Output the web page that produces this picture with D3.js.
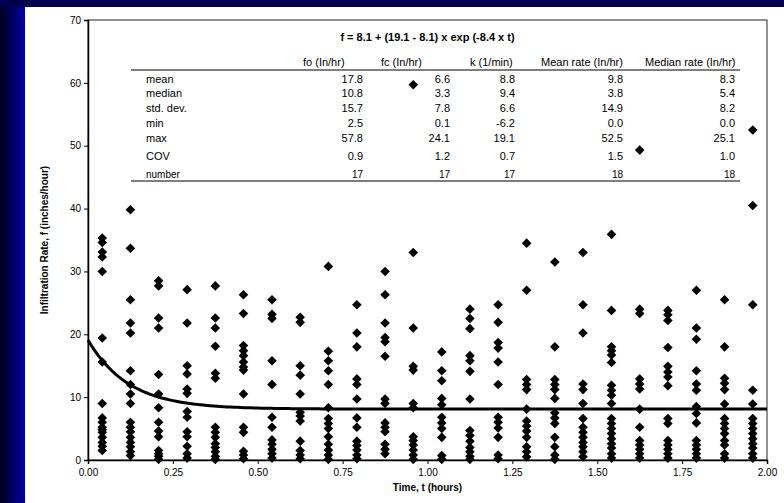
<!DOCTYPE html>
<html lang="en">
<head>
<meta charset="UTF-8" />
<title>Infiltration rate</title>
<style>
  body { margin: 0; background: #fff; }
  svg { display: block; font-family: "Liberation Sans", Arial, sans-serif; }
</style>
</head>
<body>
<div id="chart"></div>
<script src="https://cdnjs.cloudflare.com/ajax/libs/d3/7.8.5/d3.min.js"></script>
<script>
// sample times (hours), one column of observations each
var times = [0.042, 0.125, 0.208, 0.292, 0.375, 0.458, 0.542, 0.625, 0.708, 0.792, 0.875, 0.958,
             1.042, 1.125, 1.208, 1.292, 1.375, 1.458, 1.542, 1.625, 1.708, 1.792, 1.875, 1.958];

// observed infiltration rates (in/hr) for each time column
var rates = [
  [35.3, 34.6, 33.1, 32.3, 30.0, 19.4, 15.6, 9.0, 6.7, 6.0, 5.2, 4.8, 4.4, 3.6, 2.8, 2.2, 1.5],
  [39.8, 33.7, 25.5, 21.8, 20.2, 14.2, 12.0, 10.5, 9.0, 6.0, 5.2, 4.5, 3.6, 2.8, 2.1, 1.3, 0.7],
  [28.5, 27.7, 22.6, 21.0, 13.6, 10.5, 8.3, 6.0, 4.6, 3.7, 1.5, 1.0, 0.6, 0.1],
  [27.1, 21.8, 15.0, 13.7, 11.3, 10.6, 7.7, 6.8, 4.5, 3.7, 2.2, 1.0, 0.3],
  [27.7, 22.6, 21.0, 18.1, 13.8, 13.0, 5.2, 4.4, 3.6, 2.6, 2.0, 1.3, 0.6, 0.1],
  [26.3, 23.3, 18.2, 17.4, 16.6, 15.6, 14.8, 14.3, 10.5, 5.2, 4.4, 1.4, 0.8, 0.2],
  [25.5, 23.2, 22.5, 15.8, 12.0, 6.8, 5.2, 3.2, 2.5, 1.7, 1.0, 0.3],
  [22.7, 21.9, 15.0, 13.5, 10.5, 7.6, 7.0, 6.2, 3.0, 1.5, 0.8, 0.2],
  [30.8, 17.3, 15.8, 14.2, 12.0, 8.3, 6.6, 5.8, 5.0, 3.7, 2.5, 1.6, 0.8, 0.1],
  [24.7, 20.2, 18.0, 12.9, 12.0, 9.7, 6.7, 5.2, 3.0, 2.3, 1.6, 0.8, 0.2],
  [30.0, 26.3, 21.8, 19.5, 18.8, 16.5, 9.7, 9.0, 5.9, 5.2, 4.5, 2.5, 1.7, 1.0],
  [59.7, 33.0, 21.0, 14.9, 14.3, 9.0, 8.3, 3.7, 3.1, 2.4, 1.6, 0.8, 0.1],
  [17.2, 14.2, 12.6, 9.8, 8.8, 6.8, 5.9, 5.0, 3.6, 0.7, 0.1],
  [24.0, 22.5, 20.9, 16.6, 15.8, 14.1, 9.7, 4.7, 3.9, 3.0, 2.0, 1.3, 0.6, 0.1],
  [24.7, 21.9, 18.7, 17.8, 15.6, 12.0, 6.8, 6.0, 5.1, 3.6, 0.8, 0.2],
  [34.5, 27.0, 12.8, 12.0, 11.2, 8.1, 6.2, 5.4, 4.6, 3.6, 2.1, 1.3, 0.5],
  [31.5, 18.0, 12.8, 12.0, 11.2, 9.8, 7.5, 6.7, 5.8, 3.6, 2.1, 0.8, 0.1],
  [33.0, 24.7, 20.2, 12.1, 11.2, 9.0, 6.6, 5.2, 4.4, 3.6, 2.8, 2.1, 1.3, 0.5],
  [35.9, 23.8, 18.0, 17.4, 16.7, 15.5, 11.9, 11.1, 10.3, 9.0, 6.6, 5.8, 5.0, 4.2, 3.4, 2.6, 1.9, 1.0, 0.3],
  [49.3, 24.0, 23.3, 12.9, 12.1, 11.3, 8.1, 5.2, 3.1, 2.4, 1.7, 1.0, 0.3],
  [23.8, 23.1, 22.2, 17.9, 14.9, 14.0, 13.2, 11.8, 6.6, 5.8, 3.1, 2.4, 1.7, 1.0, 0.3],
  [27.0, 21.0, 19.2, 14.2, 12.1, 11.1, 8.5, 7.4, 5.9, 3.1, 2.4, 1.7, 1.0, 0.3],
  [25.5, 18.0, 13.0, 12.2, 11.2, 8.9, 6.6, 5.8, 5.0, 4.2, 3.1, 2.4, 1.0, 0.3],
  [52.5, 40.5, 24.7, 11.1, 8.9, 6.6, 5.8, 5.0, 4.2, 3.4, 2.6, 1.9, 1.0, 0.3]
];

// fitted Horton curve parameters
var fc = 8.1, fo = 19.1, k = 8.4;

var xTicks = [0, 0.25, 0.5, 0.75, 1, 1.25, 1.5, 1.75, 2];
var yTicks = [0, 10, 20, 30, 40, 50, 60, 70];

// summary table
var statLabels = ['mean', 'median', 'std. dev.', 'min', 'max', 'COV', 'number'];
var statHeaders = ['fo (In/hr)', 'fc (In/hr)', 'k (1/min)', 'Mean rate (In/hr)', 'Median rate (In/hr)'];
var foStats = ['17.8', '10.8', '15.7', '2.5', '57.8', '0.9', '17'];
var fcStats = ['6.6', '3.3', '7.8', '0.1', '24.1', '1.2', '17'];
var kStats = ['8.8', '9.4', '6.6', '-6.2', '19.1', '0.7', '17'];
var meanStats = ['9.8', '3.8', '14.9', '0.0', '52.5', '1.5', '18'];
var medianStats = ['8.3', '5.4', '8.2', '0.0', '25.1', '1.0', '18'];

var width = 784, height = 503;
var margin = { left: 88, right: 17, top: 20, bottom: 43 };

var svg = d3.select('#chart').append('svg')
  .attr('width', width)
  .attr('height', height);

// slide background: dark top band and blue left strip
var defs = svg.append('defs');
var grad = defs.append('linearGradient').attr('id', 'side')
  .attr('x1', 0).attr('x2', 1).attr('y1', 0).attr('y2', 0);
grad.append('stop').attr('offset', 0).attr('stop-color', '#000020');
grad.append('stop').attr('offset', 1).attr('stop-color', '#0000a8');

svg.append('rect').attr('width', width).attr('height', height).attr('fill', '#00004e');
svg.append('rect').attr('x', 0).attr('y', 7).attr('width', 25).attr('height', height - 7).attr('fill', 'url(#side)');
svg.append('rect').attr('x', 25).attr('y', 7).attr('width', width - 25).attr('height', height - 7).attr('fill', '#fff');

var x = d3.scaleLinear().domain([0, 2]).range([margin.left, width - margin.right]);
var y = d3.scaleLinear().domain([0, 70]).range([height - margin.bottom, margin.top]);

// frame
svg.append('rect')
  .attr('x', x(0)).attr('y', y(70))
  .attr('width', x(2) - x(0)).attr('height', y(0) - y(70))
  .attr('fill', 'none').attr('stroke', '#222').attr('stroke-width', 1);

// axes
var yAxis = svg.append('g')
  .attr('transform', 'translate(' + x(0) + ',0)')
  .call(d3.axisLeft(y).tickValues(yTicks).tickSize(4).tickPadding(3));
var xAxis = svg.append('g')
  .attr('transform', 'translate(0,' + y(0) + ')')
  .call(d3.axisBottom(x).tickValues(xTicks).tickFormat(d3.format('.2f')).tickSize(4).tickPadding(5));

[xAxis, yAxis].forEach(function (a) {
  a.select('.domain').attr('stroke', '#000').attr('stroke-width', 1.5);
  a.selectAll('.tick line').attr('stroke', '#000');
  a.selectAll('text').attr('font-family', '"Liberation Sans", Arial, sans-serif')
    .attr('font-size', 10).attr('fill', '#000');
});

svg.append('text')
  .attr('x', x(1)).attr('y', 491)
  .attr('text-anchor', 'middle')
  .attr('font-size', 10).attr('font-weight', 'bold')
  .text('Time, t (hours)');

svg.append('text')
  .attr('transform', 'translate(48,' + y(35) + ') rotate(-90)')
  .attr('text-anchor', 'middle')
  .attr('font-size', 10).attr('font-weight', 'bold')
  .text('Infiltration Rate, f (inches/hour)');

// points
var points = [];
times.forEach(function (t, i) {
  rates[i].forEach(function (v) { points.push({ t: t, v: v }); });
});
var diamond = d3.symbol().type(d3.symbolSquare).size(46);
svg.append('g').selectAll('path')
  .data(points)
  .enter()
  .append('path')
  .attr('d', diamond)
  .attr('fill', '#000')
  .attr('transform', function (d) {
    return 'translate(' + x(d.t) + ',' + y(d.v) + ') rotate(45)';
  });

// fitted curve
var curveT = d3.range(0, 2.0001, 0.01);
var line = d3.line()
  .x(function (t) { return x(t); })
  .y(function (t) { return y(fc + (fo - fc) * Math.exp(-k * t)); });
svg.append('path')
  .datum(curveT)
  .attr('d', line)
  .attr('fill', 'none')
  .attr('stroke', '#000')
  .attr('stroke-width', 3);

// equation and summary table
svg.append('text')
  .attr('x', x(1)).attr('y', 41)
  .attr('text-anchor', 'middle')
  .attr('font-size', 11).attr('font-weight', 'bold')
  .text('f = ' + fc + ' + (' + fo + ' - ' + fc + ') x exp (-' + k + ' x t)');

var headerX = [303, 381, 470, 541, 645];
var valueRight = [363, 450, 515, 623, 735];
var rowY = [83, 97, 112, 127, 142, 160, 178];
var statCols = [foStats, fcStats, kStats, meanStats, medianStats];

var table = svg.append('g').attr('font-size', 11).attr('fill', '#000');
table.selectAll('.hdr')
  .data(statHeaders)
  .enter()
  .append('text')
  .attr('class', 'hdr')
  .attr('x', function (d, i) { return headerX[i]; })
  .attr('y', 66)
  .text(function (d) { return d; });

table.selectAll('line')
  .data([70, 181])
  .enter()
  .append('line')
  .attr('x1', 131).attr('x2', 740)
  .attr('y1', function (d) { return d; })
  .attr('y2', function (d) { return d; })
  .attr('stroke', '#000').attr('stroke-width', 1.2);

table.selectAll('.lbl')
  .data(statLabels)
  .enter()
  .append('text')
  .attr('class', 'lbl')
  .attr('x', 146)
  .attr('y', function (d, i) { return rowY[i]; })
  .attr('font-size', function (d, i) { return i === 6 ? 10 : 11; })
  .text(function (d) { return d; });

statCols.forEach(function (col, c) {
  table.append('g').selectAll('text')
    .data(col)
    .enter()
    .append('text')
    .attr('x', valueRight[c])
    .attr('y', function (d, i) { return rowY[i]; })
    .attr('text-anchor', 'end')
    .attr('font-size', function (d, i) { return i === 6 ? 10 : 11; })
    .text(function (d) { return d; });
});
</script>
</body>
</html>
